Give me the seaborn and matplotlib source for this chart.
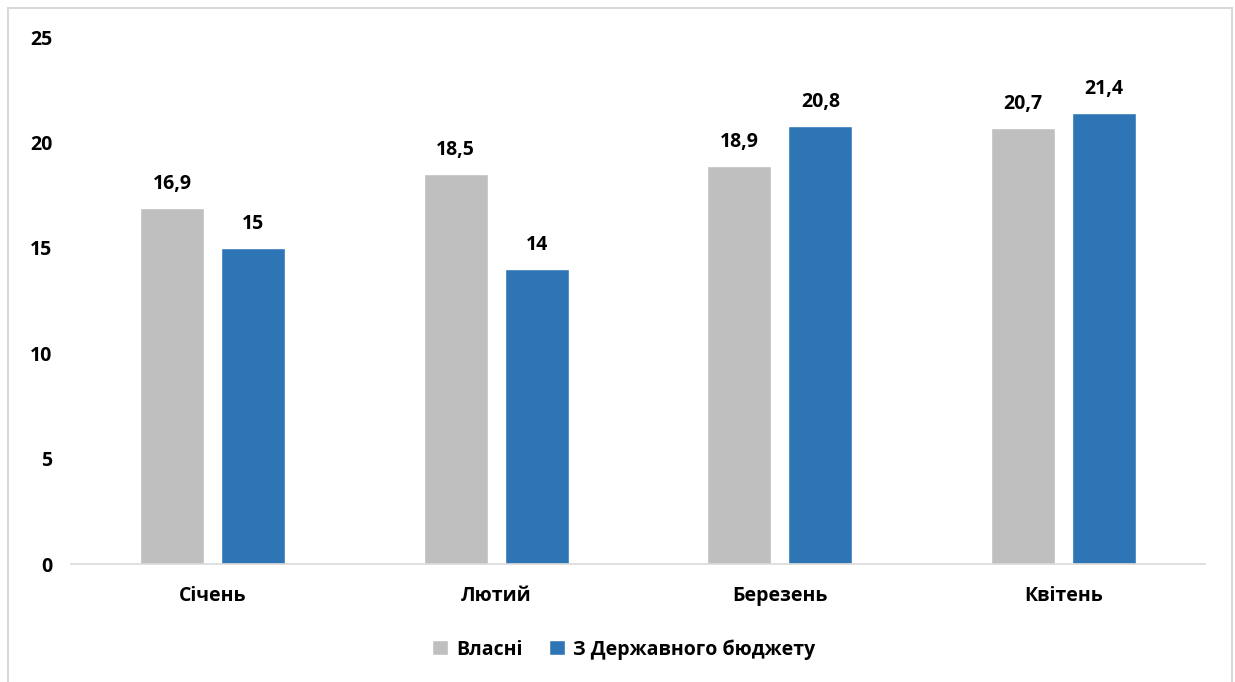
import matplotlib
matplotlib.use("Agg")
import matplotlib.pyplot as plt
import seaborn as sns
import pandas as pd
from matplotlib.patches import Rectangle

categories = ["Січень", "Лютий", "Березень", "Квітень"]
series_names = ["Власні", "З Державного бюджету"]
own_values = [16.9, 18.5, 18.9, 20.7]
budget_values = [15, 14, 20.8, 21.4]
label_own = ["16,9", "18,5", "18,9", "20,7"]
label_budget = ["15", "14", "20,8", "21,4"]
y_ticks = [0, 5, 10, 15, 20, 25]

colors = ["#bfbfbf", "#2e75b6"]

sns.set_theme(style="white")
plt.rcParams["font.family"] = ["Open Sans", "DejaVu Sans"]
plt.rcParams["font.weight"] = "bold"
FS = 14

df = pd.DataFrame({
    "month": categories * 2,
    "series": [series_names[0]] * 4 + [series_names[1]] * 4,
    "value": own_values + budget_values,
})

fig = plt.figure(figsize=(12.35, 6.82), dpi=100)
ax = fig.add_axes([0.0575, 0.173, 0.9182, 0.7727])

sns.barplot(data=df, x="month", y="value", hue="series", order=categories,
            hue_order=series_names, palette=colors, width=0.572, gap=0.21,
            ax=ax, legend=True, saturation=1, errorbar=None)

ax.set_ylim(0, 25)
ax.set_xlim(-0.5, 3.5)
ax.set_yticks(y_ticks)
ax.set_yticklabels([str(t) for t in y_ticks], fontsize=FS, fontweight="bold", color="#000000")
ax.tick_params(axis="y", pad=13.5, length=0)
ax.tick_params(axis="x", pad=16, length=0, labelsize=FS, labelcolor="#000000")
for lbl in ax.get_xticklabels():
    lbl.set_fontweight("bold")
ax.set_xlabel("")
ax.set_ylabel("")
for s in ["top", "right", "left"]:
    ax.spines[s].set_visible(False)
ax.spines["bottom"].set_color("#d9d9d9")
ax.spines["bottom"].set_linewidth(1.2)

labels_all = [label_own, label_budget]
for cont, labs in zip(ax.containers, labels_all):
    ax.bar_label(cont, labels=labs, padding=10, fontsize=FS, fontweight="bold", color="#000000")

handles, lbls = ax.get_legend_handles_labels()
leg = ax.legend(handles, lbls, loc="center", ncol=2, frameon=False,
                prop={"size": FS, "weight": "bold"},
                handlelength=0.8, handleheight=0.8, handletextpad=0.4, columnspacing=1.4)
leg.set_bbox_to_anchor((0.505, 0.048), transform=fig.transFigure)
for t in leg.get_texts():
    t.set_color("#000000")

fig.patches.append(Rectangle((8 / 1235, -0.01), (1232 - 8) / 1235, 1 - 8 / 682 + 0.01,
                             transform=fig.transFigure, fill=False, edgecolor="#d9d9d9", linewidth=1.5))

fig.savefig("out.png", dpi=100)
